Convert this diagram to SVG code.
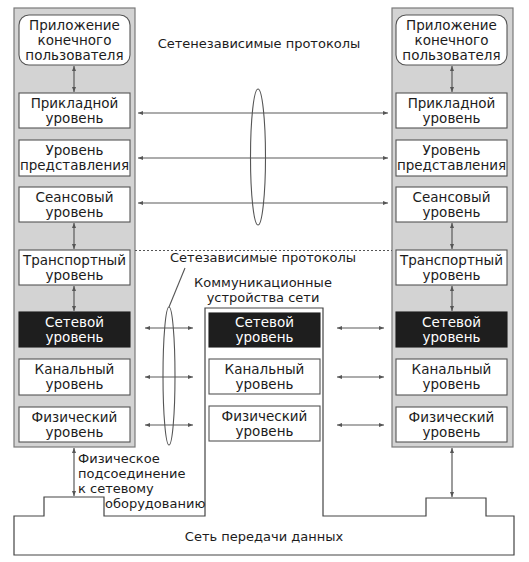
<svg xmlns="http://www.w3.org/2000/svg" width="529" height="562" viewBox="0 0 529 562">
<style>
.col{fill:#d3d3d3;stroke:#7a7a7a;stroke-width:1.2}
.box{fill:#fff;stroke:#555;stroke-width:1.1}
.dark{fill:#1e1e1e;stroke:#1e1e1e}
text{font-family:"DejaVu Sans","Verdana",sans-serif;font-size:13px;fill:#1c1c1c}
.b{font-size:13.5px}
.c{text-anchor:middle}
.w{fill:#fff}
.ln{stroke:#555;stroke-width:1.1;fill:none}
.arr{stroke:#5a5a5a;stroke-width:1.2;fill:none;marker-start:url(#ah);marker-end:url(#ah)}
</style>
<defs>
<marker id="ah" viewBox="0 0 10 10" refX="10" refY="5" markerWidth="6" markerHeight="5" orient="auto-start-reverse" markerUnits="userSpaceOnUse"><path d="M0,1 L10,5 L0,9 z" fill="#555"/></marker>
</defs>
<rect x="0" y="0" width="529" height="562" fill="#fff"/>

<g id="network">
<path d="M205,308 V516 H104 V497 H44 V516 H14 V555 H514 V516 H486 V498 H426 V516 H323 V308 Z" fill="#fff" stroke="#444" stroke-width="1.2"/>
<text class="c" x="264" y="541">Сеть передачи данных</text>
</g>

<g id="left-stack" class="b">
<rect class="col" x="14" y="8" width="121" height="439"/>
<g id="l-app"><rect class="box" x="19" y="15" width="111" height="50" rx="10"/><text class="c b" x="74.5" y="30">Приложение</text><text class="c b" x="74.5" y="45">конечного</text><text class="c b" x="74.5" y="60">пользователя</text></g>
<g id="l-app-layer"><rect class="box" x="19" y="93" width="111" height="35"/><text class="c b" x="74.5" y="108">Прикладной</text><text class="c b" x="74.5" y="123">уровень</text></g>
<g id="l-pres"><rect class="box" x="19" y="140" width="111" height="36"/><text class="c b" x="74.5" y="155">Уровень</text><text class="c b" x="74.5" y="170">представления</text></g>
<g id="l-sess"><rect class="box" x="19" y="187" width="111" height="35"/><text class="c b" x="74.5" y="202">Сеансовый</text><text class="c b" x="74.5" y="217">уровень</text></g>
<g id="l-trans"><rect class="box" x="19" y="250" width="111" height="35"/><text class="c b" x="74.5" y="265">Транспортный</text><text class="c b" x="74.5" y="280">уровень</text></g>
<g id="l-net"><rect class="box dark" x="19" y="312" width="111" height="35"/><text class="c b w" x="74.5" y="327">Сетевой</text><text class="c b w" x="74.5" y="342">уровень</text></g>
<g id="l-link"><rect class="box" x="19" y="359" width="111" height="36"/><text class="c b" x="74.5" y="374">Канальный</text><text class="c b" x="74.5" y="389">уровень</text></g>
<g id="l-phys"><rect class="box" x="19" y="407" width="111" height="35"/><text class="c b" x="74.5" y="422">Физический</text><text class="c b" x="74.5" y="437">уровень</text></g>
</g>

<g id="right-stack">
<rect class="col" x="392" y="8" width="121" height="439"/>
<g id="r-app"><rect class="box" x="396" y="15" width="111" height="50" rx="10"/><text class="c b" x="451.5" y="30">Приложение</text><text class="c b" x="451.5" y="45">конечного</text><text class="c b" x="451.5" y="60">пользователя</text></g>
<g id="r-app-layer"><rect class="box" x="396" y="93" width="111" height="35"/><text class="c b" x="451.5" y="108">Прикладной</text><text class="c b" x="451.5" y="123">уровень</text></g>
<g id="r-pres"><rect class="box" x="396" y="140" width="111" height="36"/><text class="c b" x="451.5" y="155">Уровень</text><text class="c b" x="451.5" y="170">представления</text></g>
<g id="r-sess"><rect class="box" x="396" y="187" width="111" height="35"/><text class="c b" x="451.5" y="202">Сеансовый</text><text class="c b" x="451.5" y="217">уровень</text></g>
<g id="r-trans"><rect class="box" x="396" y="250" width="111" height="35"/><text class="c b" x="451.5" y="265">Транспортный</text><text class="c b" x="451.5" y="280">уровень</text></g>
<g id="r-net"><rect class="box dark" x="396" y="312" width="111" height="35"/><text class="c b w" x="451.5" y="327">Сетевой</text><text class="c b w" x="451.5" y="342">уровень</text></g>
<g id="r-link"><rect class="box" x="396" y="359" width="111" height="36"/><text class="c b" x="451.5" y="374">Канальный</text><text class="c b" x="451.5" y="389">уровень</text></g>
<g id="r-phys"><rect class="box" x="396" y="407" width="111" height="35"/><text class="c b" x="451.5" y="422">Физический</text><text class="c b" x="451.5" y="437">уровень</text></g>
</g>

<g id="middle-stack">
<text class="c" x="263" y="287">Коммуникационные</text>
<text class="c" x="263" y="302">устройства сети</text>
<g id="m-net"><rect class="box dark" x="209" y="313" width="111" height="34"/><text class="c b w" x="264.5" y="327">Сетевой</text><text class="c b w" x="264.5" y="342">уровень</text></g>
<g id="m-link"><rect class="box" x="209" y="359" width="111" height="35"/><text class="c b" x="264.5" y="374">Канальный</text><text class="c b" x="264.5" y="389">уровень</text></g>
<g id="m-phys"><rect class="box" x="209" y="406" width="111" height="35"/><text class="c b" x="264.5" y="421">Физический</text><text class="c b" x="264.5" y="436">уровень</text></g>
</g>

<g id="labels">
<text class="c" x="259" y="48">Сетенезависимые протоколы</text>
<text x="170" y="262">Сетезависимые протоколы</text>
<text x="78" y="463">Физическое</text>
<text x="78" y="478">подсоединение</text>
<text x="78" y="493">к сетевому</text>
<text x="105" y="508">оборудованию</text>
</g>

<g id="connectors">
<line class="arr" x1="74" y1="66" x2="74" y2="92"/>
<line class="arr" x1="74" y1="223" x2="74" y2="249"/>
<line class="arr" x1="74" y1="286" x2="74" y2="311"/>
<line class="arr" x1="452" y1="66" x2="452" y2="92"/>
<line class="arr" x1="452" y1="223" x2="452" y2="249"/>
<line class="arr" x1="452" y1="286" x2="452" y2="311"/>
<line class="arr" x1="138" y1="113" x2="388" y2="113"/>
<line class="arr" x1="138" y1="158" x2="388" y2="158"/>
<line class="arr" x1="138" y1="203" x2="388" y2="203"/>
<ellipse class="ln" cx="258" cy="157" rx="7.5" ry="68"/>
<line class="ln" x1="135" y1="250.5" x2="392" y2="250.5" stroke-dasharray="2,2"/>
<line class="arr" x1="145" y1="328" x2="193" y2="328"/>
<line class="arr" x1="145" y1="377" x2="193" y2="377"/>
<line class="arr" x1="145" y1="425" x2="193" y2="425"/>
<line class="arr" x1="337" y1="328" x2="384" y2="328"/>
<line class="arr" x1="337" y1="377" x2="384" y2="377"/>
<line class="arr" x1="337" y1="425" x2="384" y2="425"/>
<ellipse class="ln" cx="169" cy="376" rx="6" ry="69"/>
<line class="ln" x1="169" y1="307" x2="185" y2="268"/>
<line class="arr" x1="74" y1="448" x2="74" y2="496"/>
<line class="arr" x1="452" y1="448" x2="452" y2="497"/>
</g>
</svg>
